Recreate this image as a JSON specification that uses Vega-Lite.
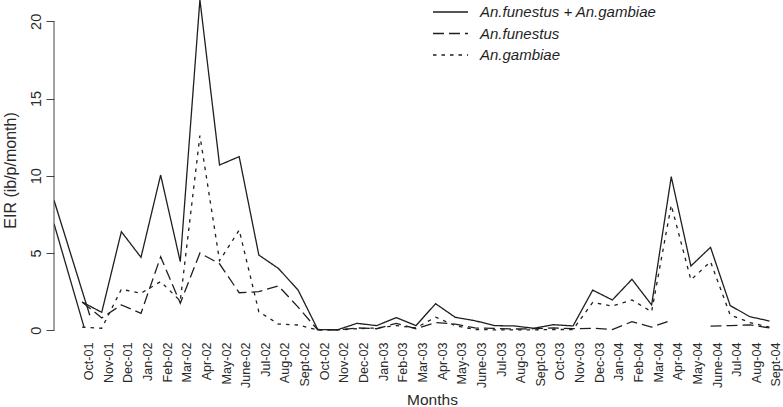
{
  "$schema": "https://vega.github.io/schema/vega-lite/v6.json",
  "width": 729,
  "height": 340,
  "autosize": {"type": "none"},
  "padding": {"left": 54, "top": 0, "right": 0, "bottom": 67},
  "background": "white",
  "config": {
    "view": {"stroke": null},
    "font": "Liberation Sans"
  },
  "datasets": {
    "eir": [
      {"series": "start A", "m": -1.43, "eir": 8.42},
      {"series": "start A", "m": 0.39, "eir": 0.97},
      {"series": "start B", "m": -1.43, "eir": 6.9},
      {"series": "start B", "m": 0.1, "eir": 0.2},
      {"series": "An.funestus + An.gambiae", "m": 0, "eir": 1.83},
      {"series": "An.funestus + An.gambiae", "m": 1, "eir": 1.16},
      {"series": "An.funestus + An.gambiae", "m": 2, "eir": 6.38},
      {"series": "An.funestus + An.gambiae", "m": 3, "eir": 4.72},
      {"series": "An.funestus + An.gambiae", "m": 4, "eir": 10.05},
      {"series": "An.funestus + An.gambiae", "m": 5, "eir": 4.44},
      {"series": "An.funestus + An.gambiae", "m": 6, "eir": 21.4},
      {"series": "An.funestus + An.gambiae", "m": 7, "eir": 10.7},
      {"series": "An.funestus + An.gambiae", "m": 8, "eir": 11.24},
      {"series": "An.funestus + An.gambiae", "m": 9, "eir": 4.87},
      {"series": "An.funestus + An.gambiae", "m": 10, "eir": 4.0},
      {"series": "An.funestus + An.gambiae", "m": 11, "eir": 2.6},
      {"series": "An.funestus + An.gambiae", "m": 12, "eir": 0.05},
      {"series": "An.funestus + An.gambiae", "m": 13, "eir": 0.03},
      {"series": "An.funestus + An.gambiae", "m": 14, "eir": 0.45},
      {"series": "An.funestus + An.gambiae", "m": 15, "eir": 0.3},
      {"series": "An.funestus + An.gambiae", "m": 16, "eir": 0.82},
      {"series": "An.funestus + An.gambiae", "m": 17, "eir": 0.3},
      {"series": "An.funestus + An.gambiae", "m": 18, "eir": 1.72},
      {"series": "An.funestus + An.gambiae", "m": 19, "eir": 0.84},
      {"series": "An.funestus + An.gambiae", "m": 20, "eir": 0.62},
      {"series": "An.funestus + An.gambiae", "m": 21, "eir": 0.3},
      {"series": "An.funestus + An.gambiae", "m": 22, "eir": 0.28},
      {"series": "An.funestus + An.gambiae", "m": 23, "eir": 0.13},
      {"series": "An.funestus + An.gambiae", "m": 24, "eir": 0.36},
      {"series": "An.funestus + An.gambiae", "m": 25, "eir": 0.28},
      {"series": "An.funestus + An.gambiae", "m": 26, "eir": 2.6},
      {"series": "An.funestus + An.gambiae", "m": 27, "eir": 1.96},
      {"series": "An.funestus + An.gambiae", "m": 28, "eir": 3.3},
      {"series": "An.funestus + An.gambiae", "m": 29, "eir": 1.64},
      {"series": "An.funestus + An.gambiae", "m": 30, "eir": 9.94},
      {"series": "An.funestus + An.gambiae", "m": 31, "eir": 4.16},
      {"series": "An.funestus + An.gambiae", "m": 32, "eir": 5.37},
      {"series": "An.funestus + An.gambiae", "m": 33, "eir": 1.6},
      {"series": "An.funestus + An.gambiae", "m": 34, "eir": 0.88},
      {"series": "An.funestus + An.gambiae", "m": 35, "eir": 0.6},
      {"series": "An.funestus", "m": 0, "eir": 1.83},
      {"series": "An.funestus", "m": 1, "eir": 0.8},
      {"series": "An.funestus", "m": 2, "eir": 1.64},
      {"series": "An.funestus", "m": 3, "eir": 1.1},
      {"series": "An.funestus", "m": 4, "eir": 4.76},
      {"series": "An.funestus", "m": 5, "eir": 1.75},
      {"series": "An.funestus", "m": 6, "eir": 5.0},
      {"series": "An.funestus", "m": 7, "eir": 4.3},
      {"series": "An.funestus", "m": 8, "eir": 2.43},
      {"series": "An.funestus", "m": 9, "eir": 2.5},
      {"series": "An.funestus", "m": 10, "eir": 2.87},
      {"series": "An.funestus", "m": 11, "eir": 1.5},
      {"series": "An.funestus", "m": 12, "eir": 0.02},
      {"series": "An.funestus", "m": 13, "eir": 0.02},
      {"series": "An.funestus", "m": 14, "eir": 0.15},
      {"series": "An.funestus", "m": 15, "eir": 0.1},
      {"series": "An.funestus", "m": 16, "eir": 0.45},
      {"series": "An.funestus", "m": 17, "eir": 0.1},
      {"series": "An.funestus", "m": 18, "eir": 0.5},
      {"series": "An.funestus", "m": 19, "eir": 0.4},
      {"series": "An.funestus", "m": 20, "eir": 0.15},
      {"series": "An.funestus", "m": 21, "eir": 0.12},
      {"series": "An.funestus", "m": 22, "eir": 0.08},
      {"series": "An.funestus", "m": 23, "eir": 0.1},
      {"series": "An.funestus", "m": 24, "eir": 0.15},
      {"series": "An.funestus", "m": 25, "eir": 0.1},
      {"series": "An.funestus", "m": 26, "eir": 0.13},
      {"series": "An.funestus", "m": 27, "eir": 0.05},
      {"series": "An.funestus", "m": 28, "eir": 0.56},
      {"series": "An.funestus", "m": 29, "eir": 0.2},
      {"series": "An.funestus", "m": 30, "eir": 0.65},
      {"series": "An.funestus", "m": 31, "eir": null},
      {"series": "An.funestus", "m": 32, "eir": 0.27},
      {"series": "An.funestus", "m": 33, "eir": 0.3},
      {"series": "An.funestus", "m": 34, "eir": 0.35},
      {"series": "An.funestus", "m": 35, "eir": 0.15},
      {"series": "An.gambiae", "m": 0, "eir": 0.2},
      {"series": "An.gambiae", "m": 1, "eir": 0.13},
      {"series": "An.gambiae", "m": 2, "eir": 2.65},
      {"series": "An.gambiae", "m": 3, "eir": 2.4},
      {"series": "An.gambiae", "m": 4, "eir": 3.15},
      {"series": "An.gambiae", "m": 5, "eir": 1.9},
      {"series": "An.gambiae", "m": 6, "eir": 12.6},
      {"series": "An.gambiae", "m": 7, "eir": 4.5},
      {"series": "An.gambiae", "m": 8, "eir": 6.49},
      {"series": "An.gambiae", "m": 9, "eir": 1.2},
      {"series": "An.gambiae", "m": 10, "eir": 0.4},
      {"series": "An.gambiae", "m": 11, "eir": 0.34},
      {"series": "An.gambiae", "m": 12, "eir": 0.02},
      {"series": "An.gambiae", "m": 13, "eir": 0.02},
      {"series": "An.gambiae", "m": 14, "eir": 0.1},
      {"series": "An.gambiae", "m": 15, "eir": 0.15},
      {"series": "An.gambiae", "m": 16, "eir": 0.3},
      {"series": "An.gambiae", "m": 17, "eir": 0.15},
      {"series": "An.gambiae", "m": 18, "eir": 0.85},
      {"series": "An.gambiae", "m": 19, "eir": 0.3},
      {"series": "An.gambiae", "m": 20, "eir": 0.05},
      {"series": "An.gambiae", "m": 21, "eir": 0.03},
      {"series": "An.gambiae", "m": 22, "eir": 0.02},
      {"series": "An.gambiae", "m": 23, "eir": 0.03},
      {"series": "An.gambiae", "m": 24, "eir": 0.05},
      {"series": "An.gambiae", "m": 25, "eir": 0.05},
      {"series": "An.gambiae", "m": 26, "eir": 1.8},
      {"series": "An.gambiae", "m": 27, "eir": 1.57},
      {"series": "An.gambiae", "m": 28, "eir": 1.96},
      {"series": "An.gambiae", "m": 29, "eir": 1.2},
      {"series": "An.gambiae", "m": 30, "eir": 8.1},
      {"series": "An.gambiae", "m": 31, "eir": 3.26},
      {"series": "An.gambiae", "m": 32, "eir": 4.44},
      {"series": "An.gambiae", "m": 33, "eir": 0.99},
      {"series": "An.gambiae", "m": 34, "eir": 0.5},
      {"series": "An.gambiae", "m": 35, "eir": 0.2}
    ]
  },
  "layer": [
    {
      "data": {"name": "eir"},
      "transform": [{"filter": "indexof(datum.series, 'start') !== 0"}],
      "mark": {"type": "line", "strokeWidth": 1.3, "color": "#1f1f1f", "clip": true, "invalid": "break-paths-show-domains"},
      "encoding": {
        "x": {
          "field": "m",
          "type": "quantitative",
          "scale": {"domain": [-1.43, 35.69], "nice": false, "zero": false},
          "axis": {
            "title": "Months",
            "values": [0,1,2,3,4,5,6,7,8,9,10,11,12,13,14,15,16,17,18,19,20,21,22,23,24,25,26,27,28,29,30,31,32,33,34,35],
            "tickCount": 100,
            "labelExpr": "['Oct-01','Nov-01','Dec-01','Jan-02','Feb-02','Mar-02','Apr-02','May-02','June-02','Jul-02','Aug-02','Sept-02','Oct-02','Nov-02','Dec-02','Jan-03','Feb-03','Mar-03','Apr-03','May-03','June-03','Jul-03','Aug-03','Sept-03','Oct-03','Nov-03','Dec-03','Jan-04','Feb-04','Mar-04','Apr-04','May-04','June-04','Jul-04','Aug-04','Sept-04'][datum.value]",
            "domain": false,
            "ticks": false,
            "tickSize": 0,
            "grid": false,
            "labelAngle": 270,
            "labelAlign": "right",
            "labelBaseline": "middle",
            "labelOffset": 6.5,
            "labelPadding": 2,
            "labelFontSize": 12.6,
            "labelColor": "#2a2a2a",
            "labelOverlap": false,
            "labelFlush": false,
            "labelBound": false,
            "titleFontSize": 15.5,
            "titleFontWeight": "normal",
            "titleColor": "#2a2a2a",
            "titlePadding": 5,
            "titleX": 378
          }
        },
        "y": {
          "field": "eir",
          "type": "quantitative",
          "scale": {"domain": [-0.63, 21.38], "nice": false, "zero": false},
          "axis": {
            "title": "EIR (ib/p/month)",
            "values": [0, 5, 10, 15, 20],
            "domain": false,
            "grid": false,
            "tickSize": 8,
            "tickColor": "#444444",
            "labelAngle": 270,
            "labelAlign": "center",
            "labelBaseline": "alphabetic",
            "labelPadding": 6,
            "labelFontSize": 14.5,
            "labelColor": "#2a2a2a",
            "titleFontSize": 16,
            "titleFontWeight": "normal",
            "titleColor": "#2a2a2a",
            "titlePadding": 10
          }
        },
        "strokeDash": {
          "field": "series",
          "type": "nominal",
          "scale": {
            "domain": ["An.funestus + An.gambiae", "An.funestus", "An.gambiae"],
            "range": [[1, 0], [11, 5], [3.5, 5]]
          },
          "legend": {
            "title": null,
            "orient": "none",
            "legendX": 378,
            "legendY": 2,
            "padding": 0,
            "symbolType": "stroke",
            "symbolSize": 1225,
            "symbolStrokeWidth": 1.3,
            "symbolStrokeColor": "#1f1f1f",
            "clipHeight": 20,
            "rowPadding": 1.5,
            "labelOffset": 11,
            "labelFontSize": 15,
            "labelFontStyle": "italic",
            "labelColor": "#1f1f1f",
            "labelLimit": 400
          }
        }
      }
    },
    {
      "data": {"name": "eir"},
      "transform": [{"filter": "indexof(datum.series, 'start') === 0"}],
      "mark": {"type": "line", "strokeWidth": 1.3, "color": "#1f1f1f", "clip": true},
      "encoding": {
        "x": {"field": "m", "type": "quantitative"},
        "y": {"field": "eir", "type": "quantitative"},
        "detail": {"field": "series", "type": "nominal"}
      }
    },
    {
      "data": {"values": [{}]},
      "mark": {"type": "rule", "color": "#444444", "strokeWidth": 1},
      "encoding": {
        "x": {"datum": -1.43, "type": "quantitative"},
        "y": {"datum": 0, "type": "quantitative"},
        "y2": {"datum": 20}
      }
    }
  ]
}
